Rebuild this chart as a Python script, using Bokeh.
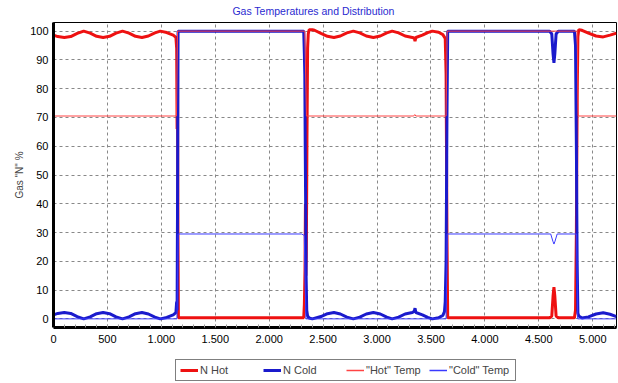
from bokeh.plotting import figure
from bokeh.models import Legend, LegendItem, FixedTicker, Range1d, Label
from bokeh.layouts import column
from bokeh.embed import file_html
from bokeh.resources import INLINE

# ---- data ----
n_hot_x = [0, 40, 100, 160, 220, 280, 340, 400, 460, 520, 580, 640, 700, 760, 820, 880, 940, 990, 1050, 1110,
           1135, 1142, 1146, 1150, 1154, 1158,
           2320, 2326, 2332, 2336, 2340, 2344, 2350, 2356, 2362, 2370, 2400, 2420, 2480, 2540, 2600, 2660, 2720,
           2780, 2840, 2900, 2966, 3030, 3090, 3140, 3200, 3260, 3327, 3345, 3352, 3360, 3420, 3470, 3512, 3570,
           3610, 3632, 3640, 3648, 3655,
           4600, 4620, 4632, 4640, 4648, 4660, 4680, 4830, 4840, 4848, 4855, 4862, 4870, 4900, 4960, 5030, 5097,
           5160, 5220]
n_hot_y = [98.6, 98.1, 97.8, 98.1, 99.2, 100, 99.3, 98.2, 97.8, 98.2, 99.3, 100, 99.3, 98.2, 97.8, 98.3, 99.4, 100, 99.5, 98.6,
           97.8, 94, 66, 85, 30, 0.4,
           0.4, 5, 17, 40, 15, 22, 62, 94, 99, 100.5, 100.5, 100.3, 99.2, 98.2, 97.8, 98.3, 99.4,
           100, 99.4, 98.3, 97.8, 98.3, 99.4, 100, 99.4, 98.3, 97.8, 97.6, 96.5, 97.8, 98.6, 99.5, 100, 99.6,
           98.8, 97.5, 85, 30, 0.4,
           0.4, 1, 8, 11, 8, 1, 0.4, 0.4, 3, 30, 75, 98, 100.5, 100.3, 99.3, 98.3, 98,
           98.6, 99.3]

n_cold_x = [0, 40, 100, 160, 220, 280, 340, 400, 460, 520, 580, 640, 700, 760, 820, 880, 940, 990, 1050, 1110,
            1135, 1142, 1146, 1150, 1155,
            2320, 2326, 2330, 2334, 2338, 2342, 2348, 2356, 2370, 2400, 2480, 2540, 2600, 2660, 2720, 2780, 2840,
            2900, 2966, 3030, 3090, 3140, 3200, 3260, 3327, 3345, 3352, 3360, 3420, 3470, 3512, 3570, 3610, 3625,
            3632, 3640, 3648, 3655,
            4600, 4620, 4632, 4640, 4648, 4660, 4680, 4830, 4840, 4848, 4855, 4862, 4870, 4900, 4960, 5030, 5097,
            5160, 5220]
n_cold_y = [1.4, 1.9, 2.2, 1.9, 0.8, 0, 0.7, 1.8, 2.2, 1.8, 0.7, 0, 0.7, 1.8, 2.2, 1.7, 0.6, 0, 0.5, 1.4,
            2.2, 6, 3, 40, 100,
            100, 92, 85, 60, 40, 15, 3, 1.0, 0.3, 0, 0.8, 1.8, 2.2, 1.7, 0.6, 0, 0.6,
            1.7, 2.2, 1.7, 0.6, 0, 0.6, 1.7, 2.2, 2.6, 3.7, 2.2, 1.4, 0.5, 0, 0.4, 1.2, 2.5,
            6, 20, 70, 100,
            100, 99, 92, 89, 92, 99, 100, 100, 95, 60, 20, 2, 1.0, 0.3, 0.7, 1.7, 2.1,
            1.6, 0.8]

hot_temp_x = [0, 1140, 1150, 2330, 2345, 3340, 3350, 3360, 3640, 3650, 4855, 4865, 5220]
hot_temp_y = [70.5, 70.5, 100, 100, 70.5, 70.5, 71, 70.5, 70.5, 100, 100, 70.5, 70.5]

cold_temp_x = [0, 1145, 1155, 2300, 2325, 2340, 3640, 3650, 4610, 4630, 4640, 4650, 4670, 4850, 4860, 5220]
cold_temp_y = [0, 0, 29.5, 29.5, 29, 0, 0, 29.5, 29.5, 27, 26, 27, 29.5, 29.5, 0, 0]

x_ticks = [0, 500, 1000, 1500, 2000, 2500, 3000, 3500, 4000, 4500, 5000]
x_tick_labels = ["0", "500", "1.000", "1.500", "2.000", "2.500", "3.000", "3.500", "4.000", "4.500", "5.000"]
y_ticks = [0, 10, 20, 30, 40, 50, 60, 70, 80, 90, 100]

series_names = ["N Hot", "N Cold", "\"Hot\" Temp", "\"Cold\" Temp"]
title_text = "Gas Temperatures and Distribution"

FONT = "Liberation Sans"
COLORS = ["#ee1111", "#1a1acc", "#ff4444", "#3a3aff"]
WIDTHS = [3, 3, 1, 1]
LEGEND_WIDTHS = [3, 3, 1.5, 1.5]

# ---- title strip ----
tf = figure(width=618, height=22, output_backend="svg", toolbar_location=None,
            x_axis_type=None, y_axis_type=None, min_border=0,
            x_range=Range1d(0, 1), y_range=Range1d(0, 1))
tf.outline_line_color = None
tf.add_layout(Label(x=260, y=12, x_units="screen", y_units="screen", text=title_text,
                    text_font=FONT, text_font_size="10.5px", text_color="#2a2ad0",
                    text_align="center", text_baseline="middle"))

# ---- main chart ----
p = figure(frame_width=563, frame_height=305, output_backend="svg", toolbar_location=None,
           x_range=Range1d(0, 5220), y_range=Range1d(-3, 103),
           min_border_left=53, min_border_right=2, min_border_top=0, min_border_bottom=22)
p.background_fill_color = "white"
p.border_fill_color = "white"
p.outline_line_color = "black"
p.outline_line_width = 1

xs = [n_hot_x, n_cold_x, hot_temp_x, cold_temp_x]
ys = [n_hot_y, n_cold_y, hot_temp_y, cold_temp_y]
for x, y, c, w in zip(xs, ys, COLORS, WIDTHS):
    p.line(x, y, line_color=c, line_width=w)

for ax in (p.xaxis[0], p.yaxis[0]):
    ax.axis_line_color = "black"
    ax.axis_line_width = 3
    ax.major_label_text_font = FONT
    ax.major_label_text_font_size = "11px"
    ax.major_label_text_color = "black"
    ax.major_tick_out = 0
    ax.major_tick_in = 0
    ax.minor_tick_out = 0
    ax.minor_tick_in = 3
    ax.minor_tick_line_color = "#999999"

p.xaxis.ticker = FixedTicker(ticks=x_ticks, minor_ticks=list(range(0, 5300, 100)))
p.xaxis.major_label_overrides = {t: l for t, l in zip(x_ticks, x_tick_labels)}
p.xaxis.major_label_standoff = 7
p.yaxis.ticker = FixedTicker(ticks=y_ticks)
p.yaxis.minor_tick_in = 0
p.yaxis.major_label_standoff = 5
p.yaxis.axis_label = 'Gas "N" %'
p.yaxis.axis_label_text_font = FONT
p.yaxis.axis_label_text_font_style = "normal"
p.yaxis.axis_label_text_font_size = "10px"
p.yaxis.axis_label_standoff = 2

for g in (p.xgrid[0], p.ygrid[0]):
    g.grid_line_color = "#888888"
    g.grid_line_dash = "3 3"
    g.grid_line_width = 1

# ---- legend strip ----
lf = figure(width=618, height=34, output_backend="svg", toolbar_location=None,
            x_axis_type=None, y_axis_type=None, min_border=0,
            x_range=Range1d(0, 1), y_range=Range1d(0, 1))
lf.outline_line_color = None
items = []
for name, c, w in zip(series_names, COLORS, LEGEND_WIDTHS):
    r = lf.line([-5, -4], [-5, -4], line_color=c, line_width=w)
    items.append(LegendItem(label=name, renderers=[r]))
legend = Legend(items=items, orientation="horizontal", location=(122, 2))
legend.label_text_font = FONT
legend.label_text_font_size = "11px"
legend.label_standoff = 2
legend.glyph_width = 18
legend.glyph_height = 12
legend.label_width = 62
legend.spacing = 1
legend.padding = 4
legend.margin = 0
legend.border_line_color = "black"
legend.border_line_width = 1
legend.label_height = 12
lf.add_layout(legend, "center")

layout = column(tf, p, lf, spacing=0)
open("out.html", "w").write(file_html(layout, INLINE))
